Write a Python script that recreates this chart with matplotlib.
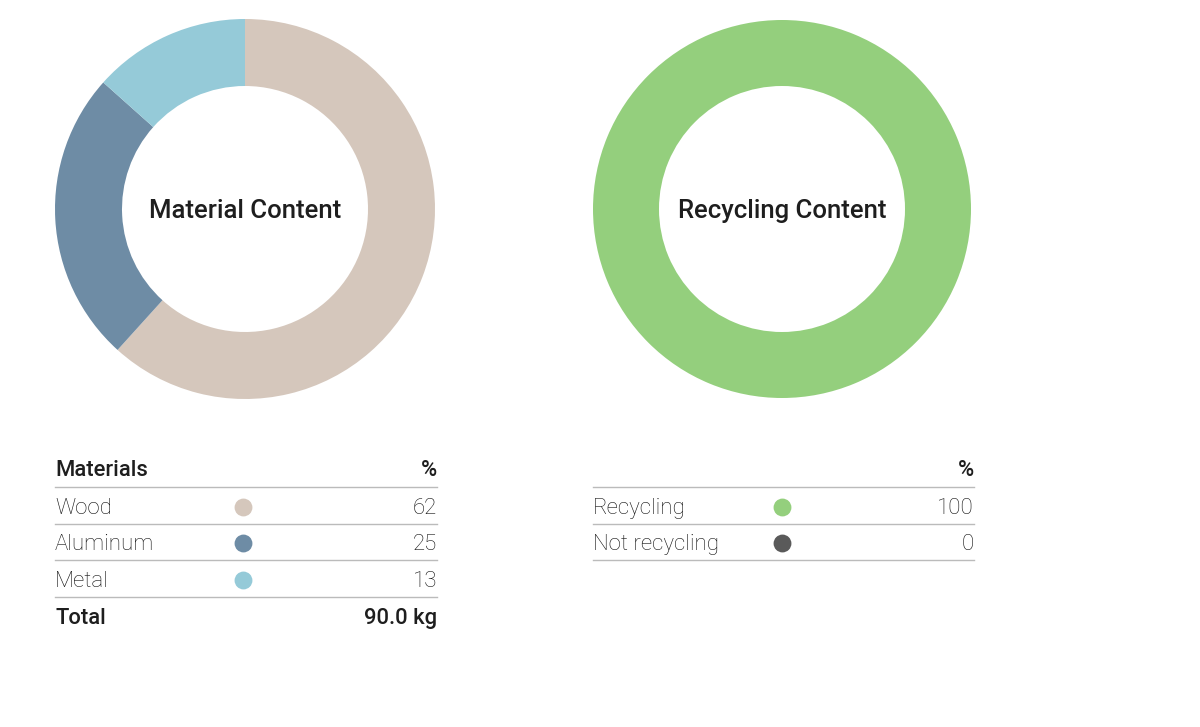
import matplotlib
matplotlib.use("Agg")
import matplotlib.pyplot as plt

plt.rcParams['font.family'] = ['Roboto', 'DejaVu Sans']

# Data
materials = ["Wood", "Aluminum", "Metal"]
material_share = [61.7, 24.9, 13.4]   # shares as drawn in the donut
material_colors = ["#D5C7BC", "#6E8CA5", "#95CAD8"]
total_label = "90.0 kg"

recycling = ["Recycling", "Not recycling"]
recycling_share = [100, 0]
recycling_colors = ["#94CF7D", "#5A5A5A"]

W, H = 1200, 727
fig = plt.figure(figsize=(12, 7.27), dpi=100)

head_col = '#1E1E1E'
txt_col = '#111111'
line_col = '#BBBBBB'


def donut(cx, cy, r_out, r_in, values, colors, title):
    ax = fig.add_axes([(cx - r_out) / W, (H - cy - r_out) / H, 2 * r_out / W, 2 * r_out / H])
    ax.pie(values, colors=colors, startangle=90, counterclock=False,
           wedgeprops=dict(width=1 - r_in / r_out, linewidth=0))
    ax.set_xlim(-1, 1)
    ax.set_ylim(-1, 1)
    ax.set_aspect('equal')
    ax.text(0, -0.012, title, ha='center', va='center', fontsize=18.5, fontweight='medium', color=head_col)


donut(245, 209, 190, 123, material_share, material_colors, "Material Content")
donut(782, 209, 189, 123, recycling_share, recycling_colors, "Recycling Content")

# Tables drawn in pixel coordinates
tab = fig.add_axes([0, 0, 1, 1])
tab.set_xlim(0, W)
tab.set_ylim(H, 0)
tab.axis('off')

row_h = 36.7


def table(x0, x1, xdot, header, names, values, colors, total=None):
    y = 471
    if header:
        tab.text(x0, y, header, ha='left', va='center', fontsize=15.8, fontweight='medium', color=head_col)
    tab.text(x1, y, "%", ha='right', va='center', fontsize=15.8, fontweight='medium', color=head_col)
    tab.plot([x0, x1], [487, 487], color=line_col, lw=1)
    for i, (n, v, c) in enumerate(zip(names, values, colors)):
        yy = 470 + (i + 1) * row_h
        tab.text(x0, yy + 1.5, n, ha='left', va='center', fontsize=16, fontweight='light', color=txt_col)
        tab.text(x1, yy + 1.5, f"{v:.0f}", ha='right', va='center', fontsize=16, fontweight='light', color=txt_col)
        tab.scatter([xdot], [yy], s=165, color=c, linewidths=0)
        tab.plot([x0, x1], [487 + (i + 1) * row_h] * 2, color=line_col, lw=1)
    if total is not None:
        yy = 470 + (len(names) + 1) * row_h
        tab.text(x0, yy + 1.5, "Total", ha='left', va='center', fontsize=15.8, fontweight='medium', color=head_col)
        tab.text(x1, yy + 1.5, total, ha='right', va='center', fontsize=15.8, fontweight='medium', color=head_col)


table(55, 437, 243, "Materials", materials, material_share, material_colors, total_label)
table(593, 974, 782, None, recycling, recycling_share, recycling_colors)

fig.savefig("out.png", dpi=100)
